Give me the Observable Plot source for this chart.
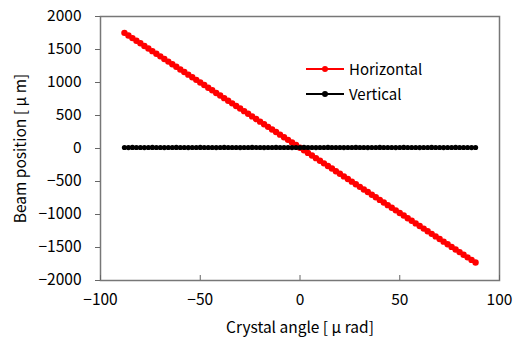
<!DOCTYPE html>
<html>
<head>
<meta charset="utf-8">
<script src="https://cdn.jsdelivr.net/npm/d3@7"></script>
<script src="https://cdn.jsdelivr.net/npm/@observablehq/plot@0.6"></script>
<style>
  body { margin: 0; background: #fff; }
  #wrap { position: relative; width: 514px; height: 345px; font-family: "Noto Sans CJK JP", "DejaVu Sans", sans-serif; }
  .leg { position: absolute; font-size: 15px; color: #000; display: flex; align-items: center; }
  .leg svg { margin-right: 5px; }
</style>
</head>
<body>
<div id="wrap"></div>
<script>
const angles = [-88,-86,-84,-82,-80,-78,-76,-74,-72,-70,-68,-66,-64,-62,-60,-58,-56,-54,-52,-50,-48,-46,-44,-42,-40,-38,-36,-34,-32,-30,-28,-26,-24,-22,-20,-18,-16,-14,-12,-10,-8,-6,-4,-2,0,2,4,6,8,10,12,14,16,18,20,22,24,26,28,30,32,34,36,38,40,42,44,46,48,50,52,54,56,58,60,62,64,66,68,70,72,74,76,78,80,82,84,86,88];
const horizontal = [1752,1712,1673,1633,1594,1554,1515,1475,1435,1396,1356,1317,1277,1238,1198,1159,1119,1080,1040,1001,961,921,882,842,803,763,724,684,645,605,566,526,486,447,407,368,328,289,249,210,170,131,91,52,12,-28,-67,-107,-146,-186,-225,-265,-304,-344,-383,-423,-463,-502,-542,-581,-621,-660,-700,-739,-779,-818,-858,-897,-937,-977,-1016,-1056,-1095,-1135,-1174,-1214,-1253,-1293,-1332,-1372,-1411,-1451,-1491,-1530,-1570,-1609,-1649,-1688,-1728];
const vertical = [15,14,16,15,15,14,15,16,15,15,14,15,15,16,15,15,14,15,15,16,15,15,15,14,15,16,15,15,15,14,15,15,16,15,15,14,15,15,16,15,15,15,14,15,15,16,15,15,14,15,15,16,15,15,15,14,15,15,16,15,15,14,15,15,16,15,15,15,14,15,16,15,15,15,14,15,15,16,15,15,14,15,15,16,15,15,15,14,15];
const seriesNames = ["Horizontal", "Vertical"];
const seriesColors = ["#ff0000", "#000000"];
const xTicks = [-100, -50, 0, 50, 100];
const yTicks = [-2000, -1500, -1000, -500, 0, 500, 1000, 1500, 2000];

const hData = angles.map((a, i) => ({x: a, y: horizontal[i]}));
const vData = angles.map((a, i) => ({x: a, y: vertical[i]}));
const fmt = d3.format("d");

const chart = Plot.plot({
  width: 514,
  height: 345,
  marginLeft: 100,
  marginRight: 15,
  marginTop: 16,
  marginBottom: 65,
  style: {fontFamily: '"Noto Sans CJK JP", "DejaVu Sans", sans-serif', fontSize: "15px", background: "#fff", color: "#000"},
  x: {domain: [-100, 100]},
  y: {domain: [-2000, 2000]},
  marks: [
    Plot.frame({stroke: "#777", strokeWidth: 1.5}),
    Plot.axisX({ticks: xTicks, tickFormat: fmt, tickSize: -5, tickPadding: 18, stroke: "#666", label: "Crystal angle [ μ rad]", labelAnchor: "center", labelArrow: "none", labelOffset: 52, fontSize: 15.5}),
    Plot.axisY({ticks: yTicks, tickFormat: fmt, tickSize: 5, tickPadding: 14, stroke: "#666", label: "Beam position [ μ m]", labelAnchor: "center", labelArrow: "none", labelOffset: 86, fontSize: 15.5}),
    Plot.line(hData, {x: "x", y: "y", stroke: seriesColors[0], strokeWidth: 2}),
    Plot.dot(hData, {x: "x", y: "y", fill: seriesColors[0], r: 3.2}),
    Plot.line(vData, {x: "x", y: "y", stroke: seriesColors[1], strokeWidth: 2}),
    Plot.dot(vData, {x: "x", y: "y", fill: seriesColors[1], r: 2.6})
  ]
});
const wrap = document.getElementById("wrap");
wrap.appendChild(chart);

const legendTops = [58, 83];
seriesNames.forEach((name, i) => {
  const d = document.createElement("div");
  d.className = "leg";
  d.style.left = "306px";
  d.style.top = legendTops[i] + "px";
  d.innerHTML = `<svg width="38" height="10"><line x1="0" y1="5" x2="38" y2="5" stroke="${seriesColors[i]}" stroke-width="2"/><circle cx="19" cy="5" r="3" fill="${seriesColors[i]}"/></svg><span>${name}</span>`;
  wrap.appendChild(d);
});
</script>
</body>
</html>
